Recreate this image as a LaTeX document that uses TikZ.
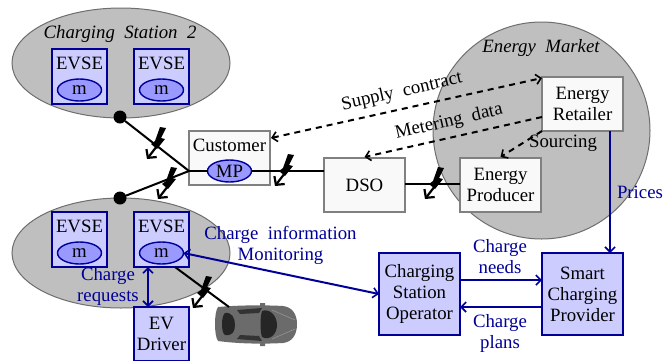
\documentclass[tikz,border=0pt]{standalone}
\usepackage{fontspec}
\setmainfont{Liberation Serif}
\usetikzlibrary{arrows.meta,calc,shapes.geometric}
\definecolor{dkblue}{HTML}{000099}
\definecolor{ltblue}{HTML}{CCCCFF}
\definecolor{mdblue}{HTML}{9999FF}
\definecolor{zone}{HTML}{BFBFBF}
\definecolor{zoneline}{HTML}{6E6E6E}
\definecolor{paper}{HTML}{F9F9F9}
\tikzset{
  x=1pt,y=-1pt,
  barb/.tip={Straight Barb[length=5pt,width=10pt,line width=1.6pt]},
  every node/.style={font=\fontsize{18.8}{21}\selectfont,align=center,inner sep=0pt,outer sep=0pt},
  zonearea/.style={ellipse,draw=zoneline,fill=zone,line width=1pt,minimum width=218pt,minimum height=110pt},
  blueline/.style={draw=dkblue,line width=1.4pt},
  bluebox/.style={rectangle,blueline,fill=ltblue,minimum width=55pt,minimum height=55pt},
  graybox/.style={rectangle,draw=gray,fill=paper,line width=1.4pt,minimum width=81pt,minimum height=54pt},
  bigblue/.style={rectangle,blueline,fill=ltblue,minimum width=81pt,minimum height=82pt},
  meter/.style={ellipse,blueline,fill=mdblue,minimum width=44pt,minimum height=22pt},
  flow/.style={dkblue,line width=2pt,-barb},
  flowboth/.style={dkblue,line width=2pt,barb-barb},
  dataline/.style={black,line width=2pt,dash pattern=on 6pt off 5pt,-barb},
  databoth/.style={black,line width=2pt,dash pattern=on 6pt off 5pt,barb-barb},
  power/.style={black,line width=2pt},
  bluetext/.style={text=dkblue},
  hub/.style={circle,fill=black,minimum size=13pt},
  bolt/.pic={
    \fill[black] (5,-17)--(11,-16)--(6,-6)--(10,-5)--(2,5)--(-4,0)--(0,-3)--cycle;
    \draw[black,line width=2.2pt,-{Straight Barb[length=6pt,width=13pt,line width=2.2pt]}] (2,2)--(-8,15);
  }
}
\begin{document}
\begin{tikzpicture}
\useasboundingbox (0,0) rectangle (664,360);
% zones
\node[zonearea] (cs2) at (121,63) {};
\node[zonearea] (cs1) at (121,253) {};
\node[circle,draw=zoneline,fill=zone,line width=1pt,minimum size=217pt] (market) at (541.5,130.5) {};
\node (cs2t) at (120,34) {\itshape Charging\ \ Station\ \ 2};
\node (mkt) at (541,48) {\itshape Energy\ \ Market};
% EVSE
\node[bluebox,anchor=north west] (e1) at (52,49) {};
\node[bluebox,anchor=north west] (e2) at (134,49) {};
\node[bluebox,anchor=north west] (e3) at (52,212) {};
\node[bluebox,anchor=north west] (e4) at (134,212) {};
\node (e1t) at (79.5,63) {EVSE};
\node (e2t) at (161.5,63) {EVSE};
\node (e3t) at (79.5,226) {EVSE};
\node (e4t) at (161.5,226) {EVSE};
\node[meter] (m1) at (79.5,90) {m};
\node[meter] (m2) at (161.5,90) {m};
\node[meter] (m3) at (79.5,253) {m};
\node[meter] (m4) at (161.5,253) {m};
% boxes
\node[graybox,anchor=north west] (cust) at (189,131) {};
\node (custt) at (229.5,145) {Customer};
\node[meter] (mp) at (229.5,171) {MP};
\node[graybox,anchor=north west] (dso) at (324,158) {DSO};
\node[graybox,anchor=north west] (ret) at (542,77) {Energy\\Retailer};
\node[graybox,anchor=north west] (prod) at (460,158) {Energy\\Producer};
\node[bigblue,anchor=north west] (csop) at (379,253) {Charging\\Station\\Operator};
\node[bigblue,anchor=north west] (scp) at (542,253) {Smart\\Charging\\Provider};
\node[bluebox,anchor=north west,minimum height=54pt] (ev) at (134,307) {EV\\Driver};
% hubs
\node[hub] (h1) at (120,117) {};
\node[hub] (h2) at (120,198) {};
% car (top view)
\coordinate (cartouch) at (229,307);
\coordinate (evsefoot) at (175,267);
\fill[black!58] (260,306) rectangle (265,303) (260,343) rectangle (265,346);
\fill[fill=black!58] (218,307) .. controls (240,305) and (265,305) .. (283,306) .. controls (292,307) and (297,314) .. (297,324) .. controls (297,335) and (292,342) .. (283,343) .. controls (265,344) and (240,344) .. (218,341) .. controls (214,336) and (214,312) .. (218,307) -- cycle;
\draw[black!42,line width=.6pt] (272,310)--(295,320) (272,339)--(295,329);
\fill[black!85] (225,313) .. controls (232,312) and (235,318) .. (235,325) .. controls (235,332) and (232,336) .. (225,335) .. controls (221,333) and (221,316) .. (225,313) -- cycle;
\fill[black!85] (262,311) .. controls (270,308) and (277,316) .. (277,325) .. controls (277,334) and (270,341) .. (262,337) .. controls (260,330) and (260,318) .. (262,311) -- cycle;
\fill[black!80] (237,310)--(262,308)--(259,313)--(240,314)--cycle (237,339)--(262,341)--(259,336)--(240,335)--cycle;
% power lines
\draw[power] (h1)--(cust.west |- mp);
\draw[power] (h2)--(cust.west |- mp);
\draw[power] (cust.west |- mp)--(mp.west);
\draw[power] (mp.east)--(mp.east -| dso.west);
\draw[power] (dso.east |- 0,184)--(prod.west |- 0,184);
\draw[power] (evsefoot)--(cartouch);
\pic at (155,144) {bolt};
\pic at (166,184) {bolt};
\pic at (283,171) {bolt};
\pic at (433,184) {bolt};
\pic at (201,293) {bolt};
% data links
\draw[databoth] ($(cust.north east)+(1,7)$)--($(ret.north west)+(0,1)$);
\draw[dataline] ($(ret.west)+(0,13)$)--($(dso.north)+(0,-1)$);
\draw[dataline] (ret.south west)--($(prod.north)+(0,-1)$);
\node[rotate=13] (lsc) at (402,92) {Supply\ \ contract};
\node[rotate=13] (lmd) at (449,122) {Metering\ \ data};
\node (lso) at (563,143) {Sourcing};
% blue flows
\draw[flow] (ret.south -| 610,0)--(scp.north -| 610,0);
\draw[flow] ($(csop.east)+(0,-14)$)--($(scp.west)+(0,-14)$);
\draw[flow] ($(scp.west)+(0,13)$)--($(csop.east)+(0,13)$);
\draw[flowboth] (m4.east)--(csop.west);
\draw[flowboth] (148,267)--(ev.north -| 148,0);
\node[bluetext] (lpr) at (640,192) {Prices};
\node[bluetext] (lci) at (280.5,245.5) {Charge\ \ information\\Monitoring};
\node[bluetext] (lcr) at (108,286) {Charge\\requests};
\node[bluetext] (lcn) at (500,256.5) {Charge\\needs};
\node[bluetext] (lcp) at (500,333) {Charge\\plans};
\end{tikzpicture}
\end{document}
